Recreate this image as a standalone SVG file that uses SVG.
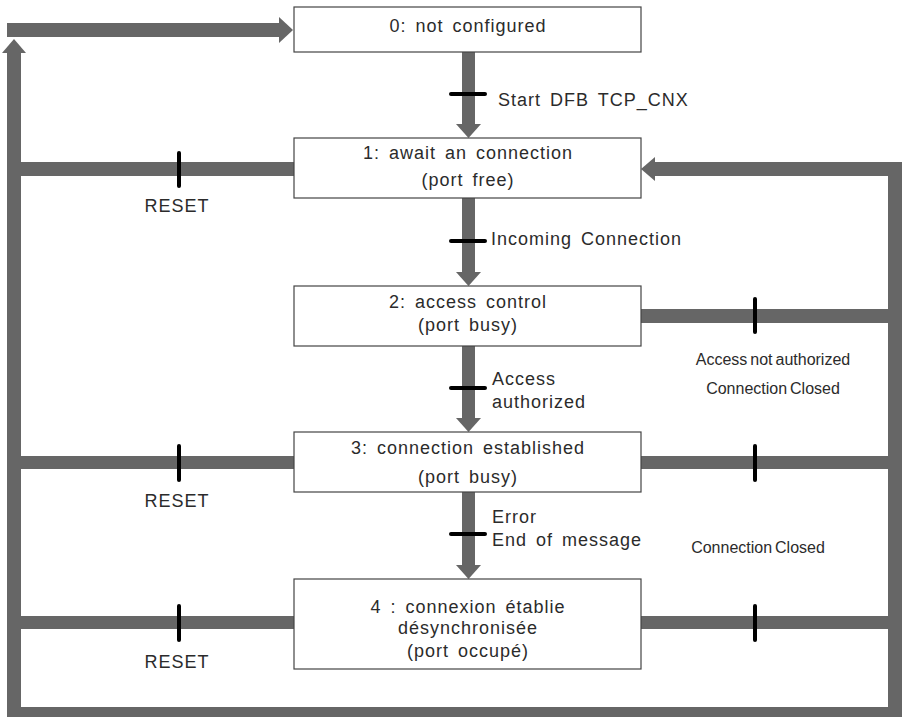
<svg xmlns="http://www.w3.org/2000/svg" width="902" height="717" viewBox="0 0 902 717">
  <style>
    .state rect { fill: #ffffff; stroke: #444444; stroke-width: 1.2; }
    .state text { font-family: "Liberation Sans", Arial, sans-serif; font-size: 18px; fill: #2b2b2b; text-anchor: middle; letter-spacing: 1px; word-spacing: 3px; }
    .bus { fill: #666666; }
    .tick { stroke: #000000; stroke-width: 4; stroke-linecap: round; fill: none; }
    .lbl { font-family: "Liberation Sans", Arial, sans-serif; font-size: 18px; fill: #2b2b2b; letter-spacing: 1px; word-spacing: 3px; }
    .reset { text-anchor: middle; word-spacing: 0; }
    .small { font-family: "Liberation Sans", Arial, sans-serif; font-size: 16px; fill: #2b2b2b; text-anchor: middle; word-spacing: -1.5px; }
  </style>

  <!-- transitions: thick gray buses and arrows -->
  <g id="connectors">
    <!-- return line to state 0 (left bus, top arrow) -->
    <rect class="bus" x="7" y="23" width="272" height="14"/>
    <polygon class="bus" points="279,17 293,30 279,43"/>
    <rect class="bus" x="7" y="53" width="14" height="667"/>
    <polygon class="bus" points="2,53 14,39 26,53"/>
    <rect class="bus" x="7" y="707" width="895" height="13"/>

    <!-- right bus back to state 1 -->
    <rect class="bus" x="888" y="162" width="14" height="558"/>
    <rect class="bus" x="655" y="162" width="247" height="14"/>
    <polygon class="bus" points="655,157 641,169 655,181"/>

    <!-- branches from states to the left bus (RESET) -->
    <rect class="bus" x="21" y="162" width="273" height="14"/>
    <rect class="bus" x="21" y="456" width="273" height="13"/>
    <rect class="bus" x="21" y="616" width="273" height="13"/>

    <!-- branches from states to the right bus -->
    <rect class="bus" x="641" y="309" width="247" height="14"/>
    <rect class="bus" x="641" y="456" width="247" height="13"/>
    <rect class="bus" x="641" y="616" width="247" height="13"/>

    <!-- vertical state-to-state arrows -->
    <rect class="bus" x="462" y="52" width="13" height="72"/>
    <polygon class="bus" points="456,124 481,124 468.5,138"/>
    <rect class="bus" x="462" y="198" width="13" height="74"/>
    <polygon class="bus" points="456,272 481,272 468.5,286"/>
    <rect class="bus" x="462" y="346" width="13" height="72"/>
    <polygon class="bus" points="456,418 481,418 468.5,432"/>
    <rect class="bus" x="462" y="492" width="13" height="73"/>
    <polygon class="bus" points="456,565 481,565 468.5,579"/>

    <!-- transition bars -->
    <line class="tick" x1="451" y1="94" x2="485" y2="94"/>
    <line class="tick" x1="451" y1="241" x2="485" y2="241"/>
    <line class="tick" x1="451" y1="388" x2="485" y2="388"/>
    <line class="tick" x1="451" y1="534" x2="485" y2="534"/>
    <line class="tick" x1="179" y1="153" x2="179" y2="186"/>
    <line class="tick" x1="179" y1="446" x2="179" y2="480"/>
    <line class="tick" x1="179" y1="606" x2="179" y2="640"/>
    <line class="tick" x1="755" y1="299" x2="755" y2="332"/>
    <line class="tick" x1="755" y1="446" x2="755" y2="480"/>
    <line class="tick" x1="755" y1="606" x2="755" y2="640"/>

    <!-- transition conditions -->
    <text class="lbl" x="498" y="106">Start DFB TCP_CNX</text>
    <text class="lbl" x="491" y="245">Incoming Connection</text>
    <text class="lbl" x="492" y="385">Access</text>
    <text class="lbl" x="492" y="408">authorized</text>
    <text class="lbl" x="492" y="523">Error</text>
    <text class="lbl" x="492" y="546">End of message</text>
    <text class="lbl reset" x="177" y="212">RESET</text>
    <text class="lbl reset" x="177" y="507">RESET</text>
    <text class="lbl reset" x="177" y="668">RESET</text>
    <text class="small" x="773" y="365">Access not authorized</text>
    <text class="small" x="773" y="394">Connection Closed</text>
    <text class="small" x="758" y="553">Connection Closed</text>
  </g>

  <!-- states -->
  <g id="state0" class="state">
    <rect x="294" y="7" width="347" height="45"/>
    <text x="468" y="32">0: not configured</text>
  </g>
  <g id="state1" class="state">
    <rect x="294" y="138" width="347" height="60"/>
    <text x="468" y="159">1: await an connection</text>
    <text x="468" y="186">(port free)</text>
  </g>
  <g id="state2" class="state">
    <rect x="294" y="286" width="347" height="60"/>
    <text x="468" y="308">2: access control</text>
    <text x="468" y="331">(port busy)</text>
  </g>
  <g id="state3" class="state">
    <rect x="294" y="432" width="347" height="60"/>
    <text x="468" y="454">3: connection established</text>
    <text x="468" y="483">(port busy)</text>
  </g>
  <g id="state4" class="state">
    <rect x="294" y="579" width="347" height="90"/>
    <text x="468" y="613">4 : connexion établie</text>
    <text x="468" y="634">désynchronisée</text>
    <text x="468" y="657">(port occupé)</text>
  </g>
</svg>
